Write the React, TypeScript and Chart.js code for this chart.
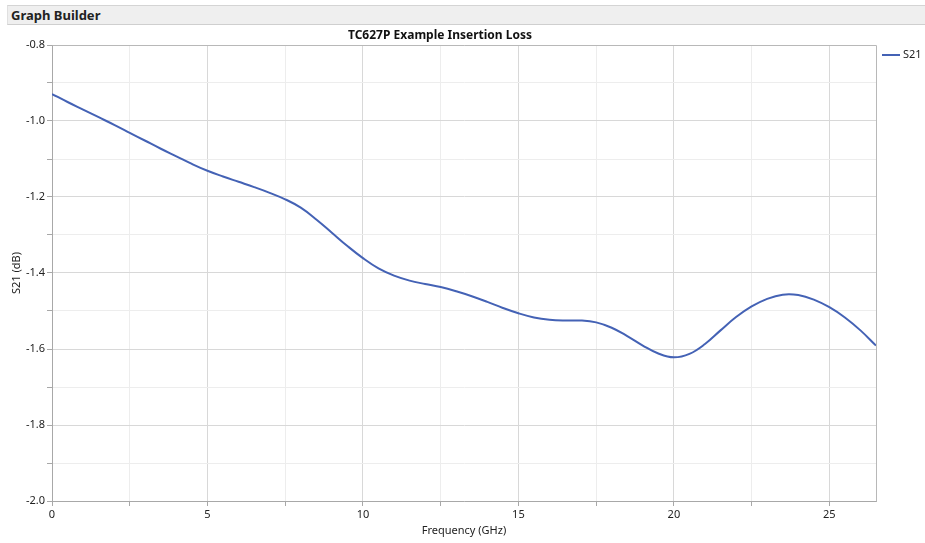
import React, { useEffect, useRef } from 'react';
import { Chart, registerables } from 'chart.js';

Chart.register(...registerables);

const headerText = 'Graph Builder';
const chartTitle = 'TC627P Example Insertion Loss';
const seriesName = 'S21';
const xTitle = 'Frequency (GHz)';
const yTitle = 'S21 (dB)';

const freqGHz = [0, 0.5, 1, 1.5, 2, 2.5, 3, 3.5, 4, 4.5, 5, 5.5, 6, 6.5, 7, 7.5, 8, 8.5, 9, 9.5, 10, 10.5, 11, 11.5, 12, 12.5, 13, 13.5, 14, 14.5, 15, 15.5, 16, 16.5, 17, 17.5, 18, 18.5, 19, 19.5, 20, 20.5, 21, 21.5, 22, 22.5, 23, 23.5, 24, 24.5, 25, 25.5, 26, 26.5];
const s21dB = [-0.929, -0.950, -0.970, -0.990, -1.010, -1.031, -1.052, -1.073, -1.093, -1.113, -1.131, -1.146, -1.160, -1.174, -1.189, -1.206, -1.228, -1.259, -1.294, -1.329, -1.361, -1.388, -1.407, -1.420, -1.429, -1.437, -1.448, -1.461, -1.476, -1.492, -1.506, -1.517, -1.523, -1.525, -1.525, -1.530, -1.544, -1.566, -1.591, -1.612, -1.622, -1.613, -1.587, -1.551, -1.516, -1.488, -1.468, -1.457, -1.458, -1.470, -1.490, -1.517, -1.551, -1.591];

const xTickValues = [0, 2.5, 5, 7.5, 10, 12.5, 15, 17.5, 20, 22.5, 25];
const yTickValues = [-2.0, -1.9, -1.8, -1.7, -1.6, -1.5, -1.4, -1.3, -1.2, -1.1, -1.0, -0.9, -0.8];

const xMin = 0;
const xMax = 26.5;
const yMin = -2.0;
const yMax = -0.8;

const lineColor = '#4462b5';
const fontFamily = '"Noto Sans", "DejaVu Sans", sans-serif';

const isMultiple = (v: number, step: number) => Math.abs(v / step - Math.round(v / step)) < 1e-6;

const decorations = {
  id: 'decorations',
  afterDraw(chart: any) {
    const { ctx, chartArea: a } = chart;
    ctx.save();
    ctx.strokeStyle = '#b8b8b8';
    ctx.lineWidth = 1;
    ctx.beginPath();
    ctx.moveTo(Math.round(a.left) + 0.5, Math.round(a.top) + 0.5);
    ctx.lineTo(Math.round(a.right) + 0.5, Math.round(a.top) + 0.5);
    ctx.lineTo(Math.round(a.right) + 0.5, Math.round(a.bottom) + 0.5);
    ctx.stroke();
    ctx.fillStyle = '#111';
    ctx.font = `bold 12px ${fontFamily}`;
    ctx.textAlign = 'center';
    ctx.textBaseline = 'middle';
    ctx.fillText(chartTitle, 440, 36);
    const ly = 55;
    ctx.strokeStyle = lineColor;
    ctx.lineWidth = 2;
    ctx.beginPath();
    ctx.moveTo(a.right + 6, ly);
    ctx.lineTo(a.right + 24, ly);
    ctx.stroke();
    ctx.fillStyle = '#222';
    ctx.font = `11px ${fontFamily}`;
    ctx.textAlign = 'left';
    ctx.fillText(seriesName, a.right + 27, ly);
    ctx.restore();
  },
};

export default function App() {
  const canvasRef = useRef<HTMLCanvasElement | null>(null);

  useEffect(() => {
    if (!canvasRef.current) return;
    const chart = new Chart(canvasRef.current, {
      type: 'line',
      data: {
        datasets: [
          {
            label: seriesName,
            data: freqGHz.map((f, i) => ({ x: f, y: s21dB[i] })),
            borderColor: lineColor,
            backgroundColor: lineColor,
            borderWidth: 2,
            pointRadius: 0,
            tension: 0.4,
            fill: false,
          },
        ],
      },
      options: {
        animation: false,
        responsive: false,
        maintainAspectRatio: false,
        layout: { padding: { top: 45, right: 49, left: 0, bottom: 0 } },
        plugins: {
          legend: { display: false },
          title: { display: false },
          tooltip: { enabled: false },
        },
        scales: {
          x: {
            type: 'linear',
            min: xMin,
            max: xMax,
            afterBuildTicks: (s: any) => {
              s.ticks = xTickValues.map((v) => ({ value: v }));
            },
            afterFit: (s: any) => {
              s.height = 42;
            },
            ticks: {
              autoSkip: false,
              maxRotation: 0,
              padding: 2,
              color: '#222',
              font: { family: fontFamily, size: 11 },
              callback: (v: any) => (isMultiple(Number(v), 5) ? String(v) : ''),
            },
            grid: {
              color: (c: any) => (c.tick && isMultiple(c.tick.value, 5) ? '#d8d8d8' : '#ededed'),
              tickColor: '#a8a8a8',
              tickLength: 5,
            },
            border: { display: true, color: '#a8a8a8' },
            title: {
              display: true,
              text: xTitle,
              color: '#222',
              font: { family: fontFamily, size: 11 },
              padding: { top: 0, bottom: 6 },
            },
          },
          y: {
            type: 'linear',
            min: yMin,
            max: yMax,
            afterBuildTicks: (s: any) => {
              s.ticks = yTickValues.map((v) => ({ value: v }));
            },
            afterFit: (s: any) => {
              s.width = 52;
            },
            ticks: {
              autoSkip: false,
              padding: 2,
              color: '#222',
              font: { family: fontFamily, size: 11 },
              callback: (v: any) => (isMultiple(Number(v), 0.2) ? Number(v).toFixed(1) : ''),
            },
            grid: {
              color: (c: any) => (c.tick && isMultiple(c.tick.value, 0.2) ? '#d8d8d8' : '#ededed'),
              tickColor: '#a8a8a8',
              tickLength: 5,
            },
            border: { display: true, color: '#a8a8a8' },
            title: {
              display: true,
              text: yTitle,
              color: '#222',
              font: { family: fontFamily, size: 11 },
              padding: { top: 10, bottom: 0 },
            },
          },
        },
      },
      plugins: [decorations],
    } as any);
    return () => chart.destroy();
  }, []);

  return (
    <div style={{ position: 'fixed', left: 0, top: 0, width: 925, height: 543, background: '#fff', overflow: 'hidden' }}>
      <canvas ref={canvasRef} width={925} height={543} style={{ position: 'absolute', left: 0, top: 0, width: 925, height: 543 }} />
      <div
        style={{
          position: 'absolute',
          left: 7,
          top: 5,
          width: 918,
          height: 18,
          background: '#efefef',
          borderTop: '1px solid #d4d4d4',
          borderBottom: '1px solid #cfcfcf',
          borderLeft: '1px solid #e0e0e0',
          boxSizing: 'content-box',
          fontFamily,
          fontWeight: 'bold',
          fontSize: 13,
          lineHeight: '18px',
          color: '#222',
          paddingLeft: 3,
        }}
      >
        {headerText}
      </div>
    </div>
  );
}
